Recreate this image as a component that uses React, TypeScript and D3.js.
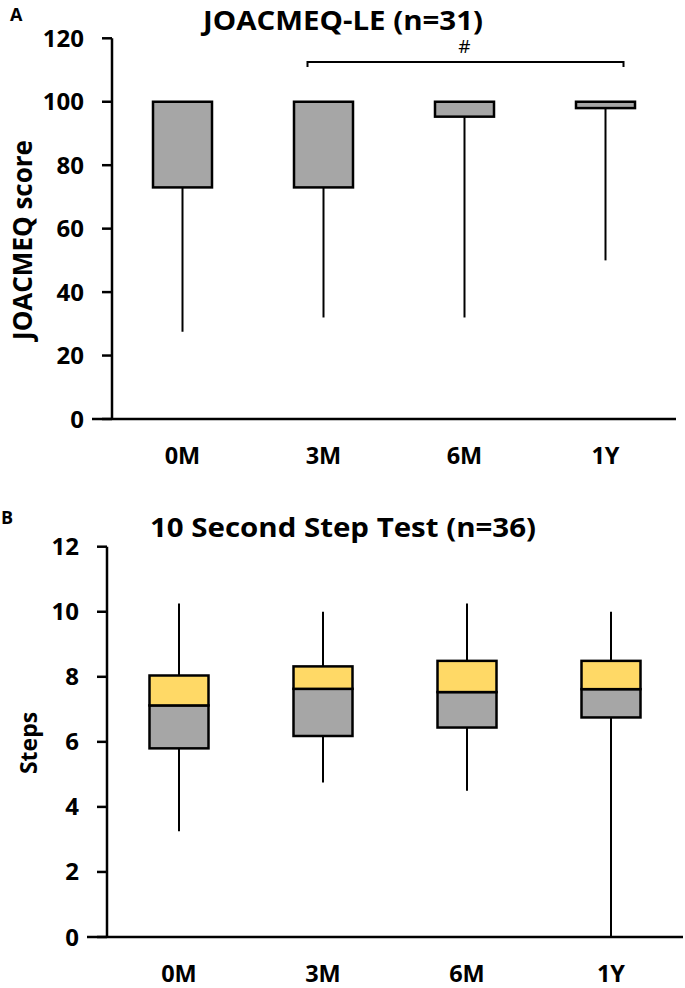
import React, {useRef, useEffect} from "react";
import {select, scaleBand, scaleLinear, range} from "d3";

// categories shared by both panels
const timepoints = ["0M", "3M", "6M", "1Y"];

// panel A: JOACMEQ-LE
const joaMin = [27.5, 32, 32, 50];
const joaQ1 = [73, 73, 95.3, 98];
const joaMedian = [100, 100, 100, 100];
const joaQ3 = [100, 100, 100, 100];
const joaMax = [100, 100, 100, 100];
const joaTicks = [0, 20, 40, 60, 80, 100, 120];

// panel B: 10 second step test
const stepMin = [3.25, 4.75, 4.5, 0];
const stepQ1 = [5.8, 6.18, 6.44, 6.75];
const stepMedian = [7.12, 7.63, 7.53, 7.62];
const stepQ3 = [8.04, 8.32, 8.49, 8.49];
const stepMax = [10.25, 10.0, 10.25, 10.0];
const stepTicks = [0, 2, 4, 6, 8, 10, 12];

const FONT = "'Open Sans', 'DejaVu Sans', sans-serif";
const GRAY = "#a6a6a6";
const YELLOW = "#ffd966";

interface PanelProps {
    svg: any;
    letter: string;
    title: string;
    yLabel: string;
    ticks: number[];
    min: number[];
    q1: number[];
    median: number[];
    q3: number[];
    max: number[];
    left: number;
    right: number;
    top: number;
    bottom: number;
    titleY: number;
    letterX: number;
    letterY: number;
    yLabelX: number;
    yLabelY: number;
}

function drawPanel(p: PanelProps) {
    const g = p.svg.append("g");
    const y = scaleLinear()
        .domain([0, p.ticks[p.ticks.length - 1]])
        .range([p.bottom, p.top]);
    const x = scaleBand().domain(timepoints).range([p.left, p.right]);
    const boxW = 59;
    const cx = (i: number) => (x(timepoints[i]) || 0) + x.bandwidth() / 2;
    const idx = range(timepoints.length);

    // whiskers
    g.selectAll(".whisker")
        .data(idx)
        .join("line")
        .attr("x1", (i: number) => cx(i))
        .attr("x2", (i: number) => cx(i))
        .attr("y1", (i: number) => y(p.min[i]))
        .attr("y2", (i: number) => y(p.max[i]))
        .attr("stroke", "#000")
        .attr("stroke-width", 2);

    // lower box (Q1 - median)
    g.selectAll(".lower")
        .data(idx)
        .join("rect")
        .attr("x", (i: number) => cx(i) - boxW / 2)
        .attr("width", boxW)
        .attr("y", (i: number) => y(p.median[i]))
        .attr("height", (i: number) => y(p.q1[i]) - y(p.median[i]))
        .attr("fill", GRAY)
        .attr("stroke", "#000")
        .attr("stroke-width", 2.5);

    // upper box (median - Q3)
    g.selectAll(".upper")
        .data(idx.filter((i: number) => p.q3[i] > p.median[i]))
        .join("rect")
        .attr("x", (i: number) => cx(i) - boxW / 2)
        .attr("width", boxW)
        .attr("y", (i: number) => y(p.q3[i]))
        .attr("height", (i: number) => y(p.median[i]) - y(p.q3[i]))
        .attr("fill", YELLOW)
        .attr("stroke", "#000")
        .attr("stroke-width", 2.5);

    // y axis
    g.append("line")
        .attr("x1", p.left).attr("x2", p.left)
        .attr("y1", y(p.ticks[p.ticks.length - 1])).attr("y2", p.bottom)
        .attr("stroke", "#000").attr("stroke-width", 2.5);
    g.selectAll(".ytick")
        .data(p.ticks)
        .join("line")
        .attr("x1", p.left - 10).attr("x2", p.left)
        .attr("y1", (d: number) => y(d)).attr("y2", (d: number) => y(d))
        .attr("stroke", "#000").attr("stroke-width", 2.5);
    g.selectAll(".ylab")
        .data(p.ticks)
        .join("text")
        .attr("x", p.left - 28)
        .attr("y", (d: number) => y(d) + 8.5)
        .attr("text-anchor", "end")
        .attr("font-family", FONT)
        .attr("font-weight", "bold")
        .attr("font-size", 24)
        .text((d: number) => d);

    // x axis
    g.append("line")
        .attr("x1", p.left - 20).attr("x2", p.right)
        .attr("y1", p.bottom).attr("y2", p.bottom)
        .attr("stroke", "#000").attr("stroke-width", 2.5);
    g.selectAll(".xlab")
        .data(timepoints)
        .join("text")
        .attr("x", (d: string) => (x(d) || 0) + x.bandwidth() / 2)
        .attr("y", p.bottom + 45)
        .attr("text-anchor", "middle")
        .attr("font-family", FONT)
        .attr("font-weight", "bold")
        .attr("font-size", 23.5)
        .text((d: string) => d);

    // titles
    g.append("text")
        .attr("x", 343).attr("y", p.titleY)
        .attr("text-anchor", "middle")
        .attr("font-family", FONT).attr("font-weight", "bold")
        .attr("font-size", 27)
        .attr("textLength", p.title.length > 20 ? 386 : 280)
        .attr("lengthAdjust", "spacingAndGlyphs")
        .text(p.title);
    g.append("text")
        .attr("x", p.letterX).attr("y", p.letterY)
        .attr("font-family", FONT).attr("font-weight", "bold")
        .attr("font-size", 18)
        .text(p.letter);
    g.append("text")
        .attr("transform", `translate(${p.yLabelX},${p.yLabelY}) rotate(-90)`)
        .attr("text-anchor", "middle")
        .attr("font-family", FONT).attr("font-weight", "bold")
        .attr("font-size", p.yLabel === "Steps" ? 23 : 26)
        .text(p.yLabel);

    return {x, y, cx};
}

export default function App() {
    const svgRef = useRef<SVGSVGElement | null>(null);

    useEffect(() => {
        const svg = select(svgRef.current);
        svg.selectAll("*").remove();

        const a = drawPanel({
            svg, letter: "A", title: "JOACMEQ-LE (n=31)", yLabel: "JOACMEQ score",
            ticks: joaTicks, min: joaMin, q1: joaQ1, median: joaMedian, q3: joaQ3, max: joaMax,
            left: 112, right: 676, top: 38.3, bottom: 419,
            titleY: 29.5, letterX: 10, letterY: 21, yLabelX: 32, yLabelY: 240,
        });
        drawPanel({
            svg, letter: "B", title: "10 Second Step Test (n=36)", yLabel: "Steps",
            ticks: stepTicks, min: stepMin, q1: stepQ1, median: stepMedian, q3: stepQ3, max: stepMax,
            left: 107, right: 683, top: 546.7, bottom: 937,
            titleY: 537, letterX: 1, letterY: 524, yLabelX: 37, yLabelY: 743,
        });

        // significance bracket 3M - 1Y
        const bx1 = a.cx(1) - 16;
        const bx2 = a.cx(3) + 18;
        const by = a.y(112.5);
        svg.append("path")
            .attr("d", `M${bx1},${by + 5}V${by}H${bx2}V${by + 5}`)
            .attr("fill", "none")
            .attr("stroke", "#000")
            .attr("stroke-width", 2);
        svg.append("text")
            .attr("x", (a.cx(1) + a.cx(3)) / 2)
            .attr("y", by - 9)
            .attr("text-anchor", "middle")
            .attr("font-family", FONT)
            .attr("font-size", 19)
            .text("#");
    }, []);

    return (
        <svg
            ref={svgRef}
            width={685}
            height={988}
            style={{position: "absolute", left: 0, top: 0, background: "#fff"}}
        ></svg>
    );
}
